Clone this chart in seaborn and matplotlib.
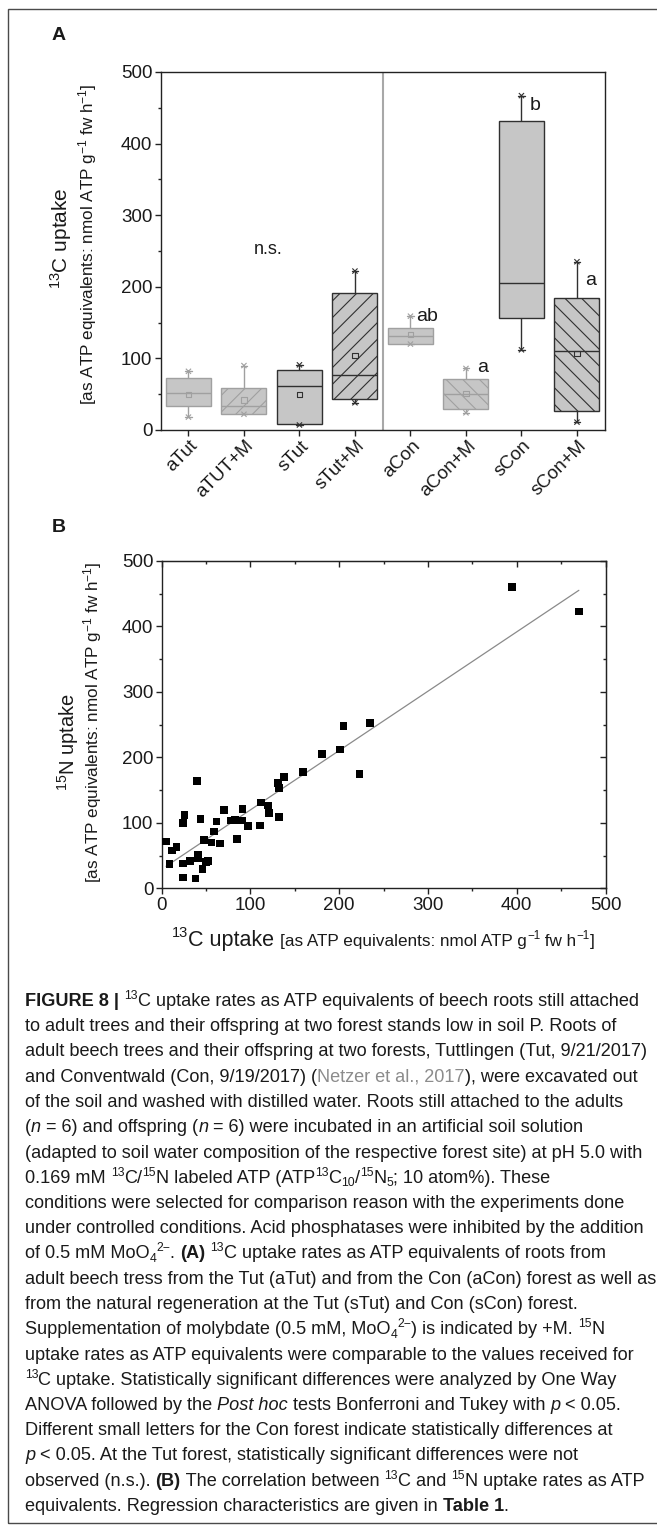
import re
import numpy as np
import pandas as pd
import matplotlib
matplotlib.use("Agg")
import matplotlib.pyplot as plt
import seaborn as sns
from matplotlib.patches import Rectangle
from matplotlib.ticker import MultipleLocator
from matplotlib.transforms import ScaledTranslation

# ---------------- data : panel A (box statistics) ----------------
groups       = ["aTut", "aTUT+M", "sTut", "sTut+M", "aCon", "aCon+M", "sCon", "sCon+M"]
whisker_low  = [18, 22, 7, 38, 120, 24, 112, 11]
q1           = [34, 23, 8, 43, 120, 29, 156, 27]
median       = [51, 34, 62, 77, 131, 50, 205, 111]
q3           = [72, 59, 84, 191, 143, 71, 431, 184]
whisker_high = [82, 90, 91, 222, 159, 86, 467, 235]
group_means  = [50, 42, 50, 104, 133, 51, np.nan, 107]
seedling     = [False, False, True, True, False, False, True, True]
molybdate    = [False, True, False, True, False, True, False, True]
site         = ["Tut", "Tut", "Tut", "Tut", "Con", "Con", "Con", "Con"]
letters      = ["", "", "", "", "ab", "a", "b", "a"]

# ---------------- data : panel B ----------------
c13_uptake = [5, 9, 12, 17, 24, 24, 26, 24, 32, 38, 40, 41, 41, 44, 46, 48, 50, 52, 56, 59,
              62, 66, 70, 78, 83, 85, 91, 91, 97, 111, 112, 120, 121, 132, 131, 132, 138,
              159, 181, 201, 205, 223, 235, 395, 470]
n15_uptake = [72, 37, 58, 63, 38, 100, 112, 17, 42, 15, 164, 52, 47, 106, 30, 74, 40, 42, 70, 87,
              102, 69, 120, 104, 105, 76, 121, 104, 95, 96, 131, 127, 115, 109, 161, 153, 170,
              178, 205, 212, 248, 175, 253, 460, 423]
axis_ticks = [0, 100, 200, 300, 400, 500]

caption_lines = [
    "*FIGURE 8 |* ^{13}C uptake rates as ATP equivalents of beech roots still attached",
    "to adult trees and their offspring at two forest stands low in soil P. Roots of",
    "adult beech trees and their offspring at two forests, Tuttlingen (Tut, 9/21/2017)",
    "and Conventwald (Con, 9/19/2017) (#Netzer et al., 2017#), were excavated out",
    "of the soil and washed with distilled water. Roots still attached to the adults",
    "(~n~ = 6) and offspring (~n~ = 6) were incubated in an artificial soil solution",
    "(adapted to soil water composition of the respective forest site) at pH 5.0 with",
    "0.169 mM ^{13}C/^{15}N labeled ATP (ATP^{13}C_{10}/^{15}N_{5}; 10 atom%). These",
    "conditions were selected for comparison reason with the experiments done",
    "under controlled conditions. Acid phosphatases were inhibited by the addition",
    "of 0.5 mM MoO_{4}^{2\u2212}. *(A)* ^{13}C uptake rates as ATP equivalents of roots from",
    "adult beech tress from the Tut (aTut) and from the Con (aCon) forest as well as",
    "from the natural regeneration at the Tut (sTut) and Con (sCon) forest.",
    "Supplementation of molybdate (0.5 mM, MoO_{4}^{2\u2212}) is indicated by +M. ^{15}N",
    "uptake rates as ATP equivalents were comparable to the values received for",
    "^{13}C uptake. Statistically significant differences were analyzed by One Way",
    "ANOVA followed by the ~Post hoc~ tests Bonferroni and Tukey with ~p~ < 0.05.",
    "Different small letters for the Con forest indicate statistically differences at",
    "~p~ < 0.05. At the Tut forest, statistically significant differences were not",
    "observed (n.s.). *(B)* The correlation between ^{13}C and ^{15}N uptake rates as ATP",
    "equivalents. Regression characteristics are given in *Table 1*.",
]

# ---------------- style ----------------
sns.set_style("white")
FONT = "Liberation Sans"
plt.rcParams["font.family"] = [FONT, "DejaVu Sans"]
plt.rcParams["mathtext.fontset"] = "custom"
plt.rcParams["mathtext.rm"] = FONT
plt.rcParams["mathtext.it"] = FONT + ":italic"
plt.rcParams["mathtext.bf"] = FONT + ":bold"
plt.rcParams["hatch.linewidth"] = 0.8

FILL = "#c6c6c6"
LIGHT_EDGE = "#a0a0a0"
DARK_EDGE = "#303030"
TEXT = "#1a1a1a"
GRAY_TEXT = "#8c8c8c"
TICK_SIZE = 13.5

W, H = 657, 1525
fig = plt.figure(figsize=(W / 100, H / 100), dpi=100)
fig.patch.set_facecolor("white")


def fx(x):
    return x / W


def fy(y):
    return 1 - y / H


# outer frame
fig.add_artist(Rectangle((fx(8), fy(1523)), (W + 10 - 8) / W, (1523 - 9) / H,
                         transform=fig.transFigure, fill=False, ec="#4a4a4a", lw=1.0,
                         clip_on=False))

# ================= Panel A =================
axA = fig.add_axes([fx(160.7), fy(430), (604.7 - 160.7) / W, (430 - 72) / H])
rows = []
for g, lo, a, m, b, hi, s in zip(groups, whisker_low, q1, median, q3, whisker_high, seedling):
    for v in (lo, a, m, b, hi):
        rows.append({"group": g, "uptake": v, "seedling": s})
dfA = pd.DataFrame(rows)

edge_cols = [DARK_EDGE if s else LIGHT_EDGE for s in seedling]
for is_seed, ec in [(False, LIGHT_EDGE), (True, DARK_EDGE)]:
    sub = dfA[dfA["seedling"] == is_seed]
    n0 = len(axA.patches)
    sns.boxplot(data=sub, x="group", y="uptake", order=groups, ax=axA, color=FILL,
                saturation=1, linecolor=ec, linewidth=1.0, width=0.81, whis=(0, 100),
                showfliers=False, capwidths=0.12)
    for p in axA.patches[n0:]:
        xc = p.get_path().vertices[:, 0].mean()
        i = int(round(xc))
        if molybdate[i]:
            p.set_hatch("//" if site[i] == "Tut" else "\\\\")
        p.set_edgecolor(ec)

pos = np.arange(len(groups))
axA.scatter(pos, whisker_high, marker="x", s=14, c=edge_cols, linewidths=0.8, zorder=5)
axA.scatter(pos, whisker_low, marker="x", s=14, c=edge_cols, linewidths=0.8, zorder=5)
axA.scatter(pos, group_means, marker="s", s=14, facecolors="none", edgecolors=edge_cols,
            linewidths=0.8, zorder=5)

axA.axvline(3.5, color="#a8a8a8", lw=1.5, zorder=0.5)
axA.set_xlim(-0.5, len(groups) - 0.5)
axA.set_ylim(0, 500)
axA.set_yticks(axis_ticks)
axA.yaxis.set_minor_locator(MultipleLocator(50))
axA.set_xlabel("")
axA.set_ylabel("")
for sp in axA.spines.values():
    sp.set_visible(True)
    sp.set_color("#222222")
    sp.set_linewidth(1.0)
axA.tick_params(axis="y", which="major", direction="out", length=4, width=1,
                labelsize=TICK_SIZE, pad=2, left=True, colors="#222222", labelcolor=TEXT)
axA.tick_params(axis="y", which="minor", direction="out", length=2.2, width=1, left=True,
                colors="#222222")
axA.tick_params(axis="x", direction="out", length=4, width=1, labelsize=TICK_SIZE, pad=2,
                bottom=True, colors="#222222", labelcolor=TEXT)
axA.set_xticks(pos)
axA.set_xticklabels(groups, rotation=45, ha="right", va="center", rotation_mode="anchor")
for lab in axA.get_xticklabels():
    lab.set_transform(lab.get_transform() + ScaledTranslation(7 / 100, -5 / 100,
                                                              fig.dpi_scale_trans))

axA.text(1.43, 252, "n.s.", ha="center", va="center", fontsize=13, color=TEXT)
letter_pos = {4: (4.1, 159), 5: (5.21, 87), 6: (6.14, 453), 7: (7.15, 209)}
for i, (lx, ly) in letter_pos.items():
    axA.text(lx, ly, letters[i], ha="left", va="center", fontsize=14, color=TEXT)

fig.text(fx(52), fy(36), "A", fontsize=14, fontweight="bold", ha="left", va="center",
         color=TEXT)
fig.text(fx(61), fy(238), "$^{13}$C uptake", rotation=90, fontsize=15, ha="center",
         va="center", color=TEXT)
fig.text(fx(88), fy(244), "[as ATP equivalents: nmol ATP g$^{\u22121}$ fw h$^{\u22121}$]",
         rotation=90, fontsize=12.3, ha="center", va="center", color=TEXT)

# ================= Panel B =================
axB = fig.add_axes([fx(161.6), fy(888.5), (605.5 - 161.6) / W, (888.5 - 561) / H])
sns.regplot(x=c13_uptake, y=n15_uptake, ax=axB, scatter=False, ci=None, color="#8a8a8a",
            line_kws=dict(lw=0.9))
sns.scatterplot(x=c13_uptake, y=n15_uptake, ax=axB, marker="s", color="black", s=30,
                edgecolor="none", linewidth=0, zorder=4)
axB.set_xlim(0, 500)
axB.set_ylim(0, 500)
axB.set_xticks(axis_ticks)
axB.set_yticks(axis_ticks)
axB.xaxis.set_minor_locator(MultipleLocator(50))
axB.yaxis.set_minor_locator(MultipleLocator(50))
for sp in axB.spines.values():
    sp.set_visible(True)
    sp.set_color("#222222")
    sp.set_linewidth(1.0)
axB.tick_params(which="major", direction="out", length=4, width=1, labelsize=TICK_SIZE, pad=2,
                bottom=True, left=True, colors="#222222", labelcolor=TEXT)
axB.tick_params(which="minor", direction="out", length=2.2, width=1, bottom=True, left=True,
                colors="#222222")
secx = axB.secondary_xaxis("top")
secx.set_xticks(axis_ticks)
secx.xaxis.set_minor_locator(MultipleLocator(50))
secx.tick_params(which="major", direction="in", length=4, width=1, labeltop=False,
                 colors="#222222")
secx.tick_params(which="minor", direction="in", length=2.2, width=1, colors="#222222")
secy = axB.secondary_yaxis("right")
secy.set_yticks(axis_ticks)
secy.yaxis.set_minor_locator(MultipleLocator(50))
secy.tick_params(which="major", direction="in", length=4, width=1, labelright=False,
                 colors="#222222")
secy.tick_params(which="minor", direction="in", length=2.2, width=1, colors="#222222")

fig.text(fx(52), fy(527), "B", fontsize=14, fontweight="bold", ha="left", va="center",
         color=TEXT)
fig.text(fx(68), fy(742), "$^{15}$N uptake", rotation=90, fontsize=14.5, ha="center",
         va="center", color=TEXT)
fig.text(fx(93), fy(722), "[as ATP equivalents: nmol ATP g$^{\u22121}$ fw h$^{\u22121}$]",
         rotation=90, fontsize=12.3, ha="center", va="center", color=TEXT)

# ================= rich text helpers =================
renderer = fig.canvas.get_renderer()
TOKEN = re.compile(r"\^\{([^}]*)\}|_\{([^}]*)\}|\*([^*]*)\*|~([^~]*)~|#([^#]*)#|([^\^_*~#]+)")


def parse(markup):
    out = []
    for m in TOKEN.finditer(markup):
        sup, sub, bold, ital, gray, plain = m.groups()
        if sup is not None:
            out.append((sup, "sup"))
        elif sub is not None:
            out.append((sub, "sub"))
        elif bold is not None:
            out.append((bold, "bold"))
        elif ital is not None:
            out.append((ital, "ital"))
        elif gray is not None:
            out.append((gray, "gray"))
        else:
            out.append((plain, "plain"))
    return out


def style_kw(kind, size):
    kw = dict(fontsize=size, color=TEXT, fontfamily=FONT)
    dy = 0.0
    if kind == "bold":
        kw["fontweight"] = "bold"
    elif kind == "ital":
        kw["fontstyle"] = "italic"
    elif kind == "gray":
        kw["color"] = GRAY_TEXT
    elif kind == "sup":
        kw["fontsize"] = size * 0.68
        dy = size * 0.40
    elif kind == "sub":
        kw["fontsize"] = size * 0.68
        dy = -size * 0.20
    return kw, dy * 100 / 72


def text_width(s, **kw):
    t = fig.text(0, 0, "|" + s + "|", **kw)
    w1 = t.get_window_extent(renderer).width
    t.set_text("||")
    w0 = t.get_window_extent(renderer).width
    t.remove()
    return w1 - w0


def rich_line(parts, x_px, y_px, align="left", draw=True):
    items = []
    cursor = 0.0
    for markup, size in parts:
        for txt, kind in parse(markup):
            kw, dy = style_kw(kind, size)
            w = text_width(txt, **kw)
            items.append((txt, kw, cursor, dy))
            cursor += w
    if draw:
        x0 = x_px - cursor / 2 if align == "center" else x_px
        for txt, kw, off, dy in items:
            fig.text(fx(x0 + off), fy(y_px - dy), txt, ha="left", va="baseline", **kw)
    return cursor


# x label of panel B
rich_line([("^{13}C uptake ", 15.5),
           ("[as ATP equivalents: nmol ATP g^{\u22121} fw h^{\u22121}]", 12.3)],
          383.5, 946, align="center")

# caption, font size fitted to the width of the reference lines
base = 11.0
w_ref = rich_line([(caption_lines[2], base)], 0, 0, draw=False)
cap_size = base * (648 - 25) / w_ref
for k, line in enumerate(caption_lines):
    rich_line([(line, cap_size)], 25, 1006 + 25.25 * k)

fig.savefig("out.png", dpi=100, facecolor="white")
